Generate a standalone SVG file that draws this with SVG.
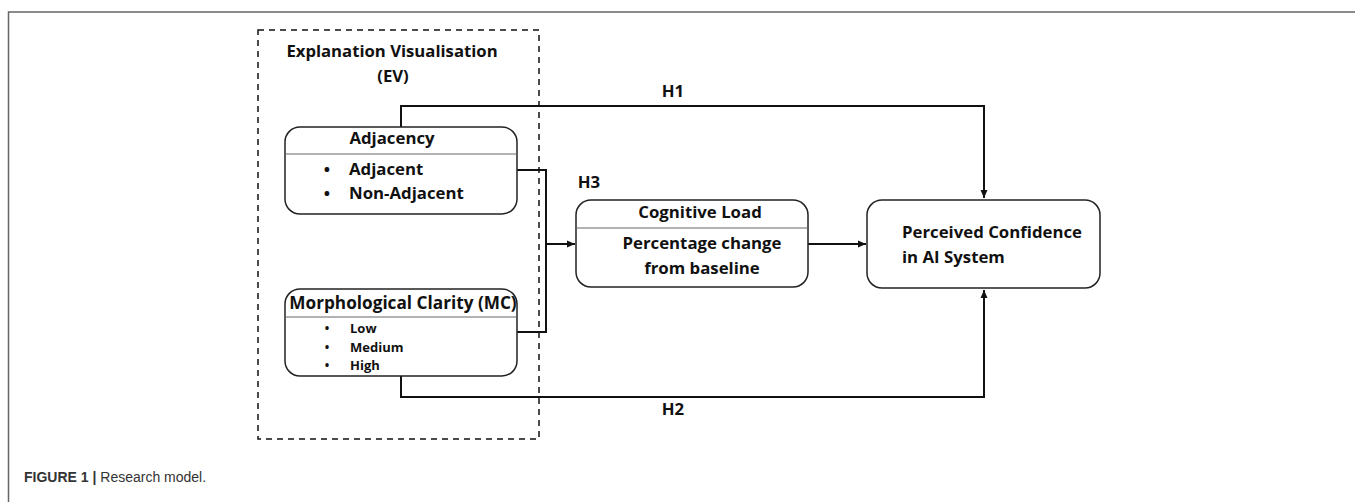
<svg xmlns="http://www.w3.org/2000/svg" width="1355" height="502" viewBox="0 0 1355 502">
<style>
.box{fill:#fff;stroke:#222;stroke-width:1.5}
.div{stroke:#666;stroke-width:1.2}
.con{fill:none;stroke:#111;stroke-width:2}
.t{font-family:"Open Sans","Liberation Sans",sans-serif;font-weight:bold;fill:#111}
.m{font-size:16.8px}
.frame{fill:none;stroke:#666;stroke-width:1.5}
</style>
<defs>
<marker id="ah" markerWidth="8" markerHeight="8" refX="8" refY="4" orient="auto" markerUnits="userSpaceOnUse">
<path d="M0,0.5 L8,4 L0,7.5 Z" fill="#111"/>
</marker>
</defs>
<path class="frame" d="M1355,12 H8.5 V502"/>
<g id="ev-group">
<rect x="258" y="30" width="281" height="409" fill="none" stroke="#111" stroke-width="1.5" stroke-dasharray="6,5"/>
<text class="t" x="392" y="57" font-size="16.7" text-anchor="middle">Explanation Visualisation</text>
<text class="t" x="393" y="82" font-size="16.7" text-anchor="middle">(EV)</text>
</g>
<g id="connectors">
<path class="con" d="M401,127 V106 H984 V198" marker-end="url(#ah)"/>
<path class="con" d="M401,376 V397 H984 V290" marker-end="url(#ah)"/>
<path class="con" d="M517,170 H546 V332 H517"/>
<path class="con" d="M546,244 H575" marker-end="url(#ah)"/>
<path class="con" d="M808,244 H866" marker-end="url(#ah)"/>
<text class="t m" x="673" y="97" text-anchor="middle">H1</text>
<text class="t m" x="673" y="415" text-anchor="middle">H2</text>
<text class="t m" x="589" y="188" text-anchor="middle">H3</text>
</g>
<g id="adjacency">
<rect class="box" x="285" y="127" width="232" height="87" rx="15"/>
<line class="div" x1="285" y1="154" x2="517" y2="154"/>
<text class="t m" x="392" y="144" text-anchor="middle">Adjacency</text>
<text class="t m" x="327" y="175" text-anchor="middle">•</text>
<text class="t m" x="349" y="175">Adjacent</text>
<text class="t m" x="327" y="199" text-anchor="middle">•</text>
<text class="t m" x="349" y="199">Non-Adjacent</text>
</g>
<g id="morph">
<rect class="box" x="285" y="289" width="232" height="87" rx="15"/>
<line class="div" x1="285" y1="317" x2="517" y2="317"/>
<text class="t" x="403" y="309" font-size="17.2" text-anchor="middle">Morphological Clarity (MC)</text>
<text class="t" x="327" y="333" font-size="12" text-anchor="middle">•</text>
<text class="t" x="350" y="333" font-size="13">Low</text>
<text class="t" x="327" y="352" font-size="12" text-anchor="middle">•</text>
<text class="t" x="350" y="352" font-size="13">Medium</text>
<text class="t" x="327" y="370" font-size="12" text-anchor="middle">•</text>
<text class="t" x="350" y="370" font-size="13">High</text>
</g>
<g id="cognitive">
<rect class="box" x="576" y="200" width="232" height="87" rx="15"/>
<line class="div" x1="576" y1="228" x2="808" y2="228"/>
<text class="t m" x="700" y="218" text-anchor="middle">Cognitive Load</text>
<text class="t m" x="702" y="249" text-anchor="middle">Percentage change</text>
<text class="t m" x="702" y="274" text-anchor="middle">from baseline</text>
</g>
<g id="perceived">
<rect class="box" x="867" y="200" width="233" height="88" rx="15"/>
<text class="t m" x="902" y="238" >Perceived Confidence</text>
<text class="t m" x="902" y="263">in AI System</text>
</g>
<g id="caption">
<text x="24" y="482" font-family="'Liberation Sans',Arial,sans-serif" font-size="14" fill="#333"><tspan font-weight="bold">FIGURE 1 | </tspan>Research model.</text>
</g>
</svg>
